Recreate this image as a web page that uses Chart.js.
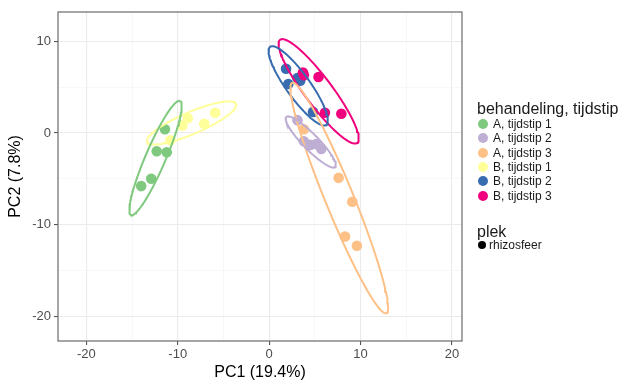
<!DOCTYPE html>
<html>
<head>
<meta charset="utf-8">
<script src="https://cdn.jsdelivr.net/npm/chart.js@4/dist/chart.umd.min.js"></script>
<style>
  body { margin: 0; background: #fff; }
  #wrap { position: relative; width: 625px; height: 385px; font-family: "Liberation Sans", Arial, sans-serif; color: #1a1a1a; }
  #pca { position: absolute; left: 0; top: 0; }
  .lg-title { position: absolute; left: 477px; font-size: 16px; white-space: nowrap; line-height: 1; }
  .lg-item { position: absolute; left: 477px; height: 14px; font-size: 12px; line-height: 14px; white-space: nowrap; }
  .lg-item .dot { position: absolute; top: 2px; width: 10px; height: 10px; border-radius: 50%; }
  .lg-item span.txt { position: absolute; left: 16px; top: 0; }
</style>
</head>
<body>
<div id="wrap">
  <canvas id="pca" width="625" height="385"></canvas>
  <div id="legend"></div>
</div>
<script>
// groepen en kleuren
const groupLabels = ['A, tijdstip 1', 'A, tijdstip 2', 'A, tijdstip 3', 'B, tijdstip 1', 'B, tijdstip 2', 'B, tijdstip 3'];
const groupColors = ['#7fc97f', '#beaed4', '#fdc086', '#ffff99', '#386cb0', '#f0027f'];

const a1X = [-14.0, -12.9, -12.3, -11.2, -11.4];
const a1Y = [-5.8, -5.0, -2.0, -2.1, 0.4];
const a2X = [3.1, 3.8, 4.5, 5.15, 5.7];
const a2Y = [1.4, -0.9, -1.3, -1.2, -1.75];
const a3X = [3.8, 7.6, 9.1, 8.3, 9.6];
const a3Y = [0.4, -4.9, -7.5, -11.3, -12.3];
const b1X = [-10.8, -9.5, -8.9, -7.1, -5.9];
const b1Y = [-0.8, 0.8, 1.6, 1.0, 2.2];
const b2X = [1.85, 2.1, 3.4, 3.1, 4.8];
const b2Y = [7.0, 5.35, 5.7, 6.0, 2.3];
const b3X = [3.7, 3.8, 5.4, 6.1, 7.9];
const b3Y = [6.6, 6.3, 6.1, 2.2, 2.1];

// ellipsen: middelpunt, halve hoofdas (vector) en halve korte as
const ellCx = [-12.43, 4.55, 7.67, -8.49, 3.18, 5.42];
const ellCy = [-2.73, -0.98, -7.10, 1.09, 5.14, 4.54];
const ellUx = [2.68, 2.68, 5.15, 4.87, 3.07, 4.22];
const ellUy = [6.23, -2.73, -12.57, 2.08, -4.26, -5.63];
const ellB = [1.1, 0.85, 1.55, 1.2, 1.3, 1.5];

// as-ticks
const xGrid = [-20, -15, -10, -5, 0, 5, 10, 15, 20];
const yGrid = [-20, -15, -10, -5, 0, 5, 10];

const groupX = [a1X, a2X, a3X, b1X, b2X, b3X];
const groupY = [a1Y, a2Y, a3Y, b1Y, b2Y, b3Y];

function ellipseOutline(i) {
  const len = Math.hypot(ellUx[i], ellUy[i]);
  const vx = -ellUy[i] / len * ellB[i];
  const vy = ellUx[i] / len * ellB[i];
  const pts = [];
  for (let k = 0; k <= 120; k++) {
    const t = k / 120 * Math.PI * 2;
    pts.push({
      x: ellCx[i] + ellUx[i] * Math.cos(t) + vx * Math.sin(t),
      y: ellCy[i] + ellUy[i] * Math.cos(t) + vy * Math.sin(t)
    });
  }
  return pts;
}

const datasets = [];
groupLabels.forEach((lab, i) => {
  datasets.push({
    label: lab + ' ellips',
    data: ellipseOutline(i),
    showLine: true,
    borderColor: groupColors[i],
    borderWidth: 2,
    pointRadius: 0,
    fill: false,
    order: 0
  });
});
groupLabels.forEach((lab, i) => {
  datasets.push({
    label: lab,
    data: groupX[i].map((x, k) => ({ x: x, y: groupY[i][k] })),
    backgroundColor: groupColors[i],
    borderWidth: 0,
    pointRadius: 5.3,
    order: 2 - i * 0.1 // latere groepen bovenop
  });
});

const isMajor = ctx => ctx.tick && ctx.tick.value % 10 === 0;

// paneelrand
const panelBorder = {
  id: 'panelBorder',
  beforeDatasetsDraw(chart) {
    const { ctx, chartArea: a } = chart;
    ctx.save();
    ctx.strokeStyle = '#6b6b6b';
    ctx.lineWidth = 1.2;
    ctx.strokeRect(a.left, a.top, a.right - a.left, a.bottom - a.top);
    ctx.restore();
  }
};

const tickFont = { family: '"Liberation Sans", Arial, sans-serif', size: 13 };
const titleFont = { family: '"Liberation Sans", Arial, sans-serif', size: 16 };

new Chart(document.getElementById('pca').getContext('2d'), {
  type: 'scatter',
  data: { datasets: datasets },
  plugins: [panelBorder],
  options: {
    responsive: false,
    animation: false,
    layout: { padding: { top: 12, right: 163, left: 0, bottom: 0 } },
    plugins: { legend: { display: false }, tooltip: { enabled: false } },
    scales: {
      x: {
        type: 'linear',
        min: -23.1,
        max: 21.1,
        afterBuildTicks: s => { s.ticks = xGrid.map(v => ({ value: v })); },
        afterFit: s => { s.height = 44; },
        ticks: {
          callback: v => (v % 10 === 0 ? v : ''),
          color: '#4d4d4d',
          font: tickFont,
          padding: 2,
          maxRotation: 0,
          autoSkip: false
        },
        grid: {
          color: ctx => (isMajor(ctx) ? '#ebebeb' : '#f3f3f3'),
          lineWidth: ctx => (isMajor(ctx) ? 1.1 : 0.6),
          tickColor: ctx => (isMajor(ctx) ? '#555' : 'rgba(0,0,0,0)'),
          tickLength: 4
        },
        border: { display: false },
        title: { display: true, text: 'PC1 (19.4%)', color: '#000', font: titleFont, padding: { top: 0, bottom: 3 } }
      },
      y: {
        type: 'linear',
        min: -22.7,
        max: 13.2,
        afterBuildTicks: s => { s.ticks = yGrid.map(v => ({ value: v })); },
        afterFit: s => { s.width = 58; },
        ticks: {
          callback: v => (v % 10 === 0 ? v : ''),
          color: '#4d4d4d',
          font: tickFont,
          padding: 3,
          autoSkip: false
        },
        grid: {
          color: ctx => (isMajor(ctx) ? '#ebebeb' : '#f3f3f3'),
          lineWidth: ctx => (isMajor(ctx) ? 1.1 : 0.6),
          tickColor: ctx => (isMajor(ctx) ? '#555' : 'rgba(0,0,0,0)'),
          tickLength: 4
        },
        border: { display: false },
        title: { display: true, text: 'PC2 (7.8%)', color: '#000', font: titleFont, padding: { top: 6, bottom: 0 } }
      }
    }
  }
});

// legenda
const legend = document.getElementById('legend');
let html = '<div class="lg-title" style="top:101px">behandeling, tijdstip</div>';
groupLabels.forEach((lab, i) => {
  const top = 117 + i * 14.3;
  html += '<div class="lg-item" style="top:' + top + 'px"><div class="dot" style="left:1px;background:' + groupColors[i] + '"></div><span class="txt">' + lab + '</span></div>';
});
html += '<div class="lg-title" style="top:224px">plek</div>';
html += '<div class="lg-item" style="top:238px"><div class="dot" style="left:1px;top:3px;width:8px;height:8px;background:#000"></div><span class="txt" style="left:12px">rhizosfeer</span></div>';
legend.innerHTML = html;
</script>
</body>
</html>
